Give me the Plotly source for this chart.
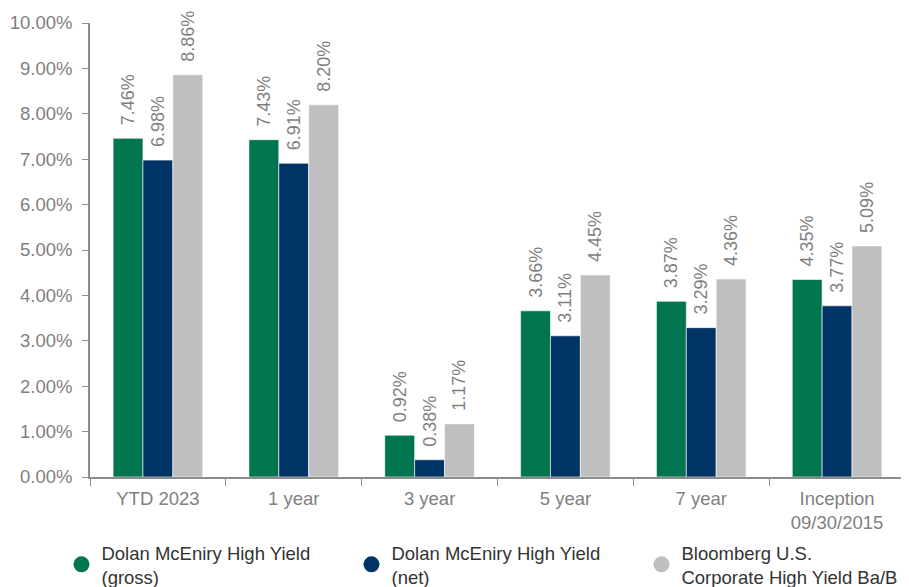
import plotly.graph_objects as go

categories = ["YTD 2023", "1 year", "3 year", "5 year", "7 year", "Inception<br>09/30/2015"]
series_names = [
    "Dolan McEniry High Yield<br>(gross)",
    "Dolan McEniry High Yield<br>(net)",
    "Bloomberg U.S.<br>Corporate High Yield Ba/B",
]
gross = [7.46, 7.43, 0.92, 3.66, 3.87, 4.35]
net = [6.98, 6.91, 0.38, 3.11, 3.29, 3.77]
bench = [8.86, 8.20, 1.17, 4.45, 4.36, 5.09]
y_ticks = [0, 1, 2, 3, 4, 5, 6, 7, 8, 9, 10]

colors = ["#00754F", "#003366", "#BFBFBF"]
FONT = "Liberation Sans, Arial, sans-serif"
GRAY = "#7F7F7F"
FS = 18.5
PAD = "\u00a0\u00a0"

fig = go.Figure()
for name, vals, col in zip(series_names, [gross, net, bench], colors):
    fig.add_trace(go.Bar(
        x=categories, y=vals, name=name,
        marker=dict(color=col, line=dict(color="white", width=0.6)),
        text=[f"{PAD}{v:.2f}%" for v in vals],
        textposition="outside", textangle=-90, constraintext="none",
        textfont=dict(family=FONT, size=18, color=GRAY),
        cliponaxis=False, showlegend=False,
    ))
for name, col in zip(series_names, colors):
    fig.add_trace(go.Scatter(
        x=[None], y=[None], mode="markers", name=name,
        marker=dict(color=col, size=20, symbol="circle"),
        showlegend=True,
    ))

fig.update_layout(
    width=909, height=587,
    margin=dict(l=82, r=12, t=15, b=118, autoexpand=False),
    paper_bgcolor="white", plot_bgcolor="white",
    barmode="group", bargap=0.34, bargroupgap=0,
    font=dict(family=FONT, size=FS, color=GRAY),
    legend=dict(
        orientation="h", x=-0.035, xanchor="left", y=-0.125, yanchor="top",
        font=dict(family=FONT, size=FS, color="#333333"),
        entrywidth=245, entrywidthmode="pixels",
        itemsizing="trace", tracegroupgap=0,
    ),
)
fig.update_xaxes(
    showline=True, linecolor="#8C8C8C", linewidth=1.5,
    ticks="outside", tickson="boundaries", ticklen=7, tickcolor="#8C8C8C",
    tickfont=dict(family=FONT, size=FS, color=GRAY), ticklabelstandoff=4,
    range=[-0.5, 5.5], showgrid=False, zeroline=False, automargin=False,
)
fig.update_yaxes(
    range=[0, 10], tickvals=y_ticks, ticktext=[f"{v:.2f}%" for v in y_ticks],
    showline=True, linecolor="#8C8C8C", linewidth=1.5,
    ticks="outside", ticklen=6, tickcolor="#8C8C8C",
    tickfont=dict(family=FONT, size=FS, color=GRAY), ticklabelstandoff=6,
    showgrid=False, zeroline=False, automargin=False,
)

fig.write_html("out.html")
